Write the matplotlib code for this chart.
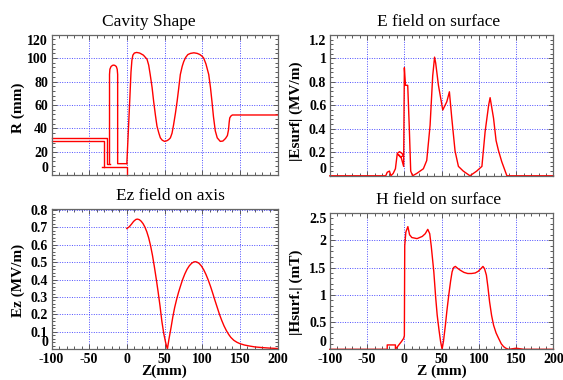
import matplotlib
matplotlib.use("Agg")
import matplotlib.pyplot as plt
from matplotlib.ticker import AutoMinorLocator

plt.rcParams['font.family'] = ['Liberation Serif', 'DejaVu Serif']
plt.rcParams['axes.unicode_minus'] = False

# ---- cavity shape (z in mm, R in mm) ----
coupler_outer_z = [-100, -27, -27, -23]
coupler_outer_r = [32, 32, 10, 10]
coupler_inner_z = [-100, -30, -30]
coupler_inner_r = [29, 29, 7.5]
pipe_z = [-33, 0, 0]
pipe_r = [7.5, 7.5, 0]
post_z = [-23, -23, -22.5, -21, -19, -17.5, -16, -14, -12.8, -12.2, -12.2, 0]
post_r = [10, 86, 90.5, 92.8, 93.8, 94, 93.8, 92.8, 90.5, 86, 10, 10]
cell_z = [0, 2, 4, 5.5, 6.7, 8, 10, 13, 17, 22, 26.8, 29, 31, 33.5, 35.6, 38, 40,
          42.5, 44.5, 47, 50, 53, 55.5, 57.8, 60, 62, 64.5, 66.7, 69, 71, 73.5, 75.5,
          78, 81, 84.5, 89, 93.4, 97, 100, 102, 105, 108.7, 111, 113, 115, 117.4, 120,
          124, 127.5, 131, 133.5, 135, 135.8, 136.6, 138, 140, 200]
cell_r = [10, 38, 66, 88, 98, 102.5, 104.3, 104.8, 104.3, 102.5, 99, 94, 86, 75, 63, 51, 42,
          36, 32, 30, 29, 29.5, 30.5, 32, 36, 43, 53, 63, 75, 86, 93, 97,
          100.5, 103, 104, 104.5, 104, 103, 101.5, 100, 95, 86, 75, 63, 50, 38, 32,
          29, 29.3, 31.5, 34, 39, 45, 49, 50.5, 51.5, 51.5]

# ---- surface E field (MV/m) ----
es_z = [-100, -25, -23, -20, -18, -15, -12, -9.5, -6.5, -3, -1.5, -5, -8, -4, -1, 0,
        1.5, 4.5, 6.5, 8.5, 11, 16.6, 25.5, 30, 34.5, 38, 40.5, 42, 45.7, 51.5, 56.9,
        60.4, 63.6, 68, 72.5, 79, 88, 97, 104, 108.3, 113, 115, 119.6, 123, 126,
        130.6, 137.5, 200]
es_v = [0, 0, 0.03, 0.04, 0, 0.02, 0.06, 0.19, 0.205, 0.19, 0.17, 0.16, 0.18, 0.15, 0.08, 0.92,
        0.77, 0.77, 0.43, 0.04, 0, 0.02, 0.06, 0.13, 0.43, 0.85, 1.01, 0.96, 0.77, 0.56, 0.63,
        0.715, 0.49, 0.21, 0.08, 0.04, 0, 0.04, 0.08, 0.375, 0.6, 0.665, 0.49, 0.3, 0.22,
        0.12, 0, 0]

# ---- Ez on axis (MV/m) ----
ez_z = [0, 3, 6, 9, 12, 14, 16.5, 19, 21.5, 24, 26.5, 29, 31.5, 34, 36.5, 39, 41.5,
        44, 46.5, 49, 51.5, 53.8, 56, 58.7, 61, 63.5, 66, 68.5, 71, 74, 77, 80, 83, 86,
        89, 91, 93, 96, 99, 102, 105, 108, 111, 114, 117, 120, 123, 126, 129, 132, 135,
        138, 142, 146, 150, 156, 163, 170, 180, 190, 200]
ez_v = [0.694, 0.703, 0.718, 0.735, 0.746, 0.748, 0.745, 0.736, 0.722, 0.702, 0.675, 0.64,
        0.595, 0.54, 0.475, 0.405, 0.33, 0.25, 0.16, 0.09, 0.038, 0.0, 0.06, 0.125,
        0.185, 0.24, 0.285, 0.325, 0.36, 0.4, 0.433, 0.46, 0.48, 0.494,
        0.502, 0.503, 0.501, 0.493, 0.478, 0.457, 0.43, 0.398, 0.362, 0.322, 0.28, 0.24,
        0.2, 0.165, 0.134, 0.108, 0.086, 0.068, 0.051, 0.04, 0.032, 0.024, 0.018, 0.013,
        0.009, 0.006, 0.004]

# ---- surface H field (mT) ----
hs_z = [-100, -23, -23, -12, -12, -8, -4, -1, 0, 0.5, 2, 4.7, 7, 10, 17, 24, 28, 31.4,
        34, 36, 39.5, 42, 44, 46.5, 48.5, 50.6, 52.5, 55, 57, 59.5, 62, 64, 66, 68.4,
        71, 75, 80, 85, 90, 95, 99, 102, 105.4, 107.5, 110, 112, 114.3, 117, 119.7,
        123, 126.4, 130, 133, 136, 139.7, 145, 150, 155, 160, 200]
hs_v = [0, 0, 0.08, 0.08, 0, 0.07, 0.14, 0.2, 0.25, 1.9, 2.15, 2.25, 2.1, 2.05, 2.03, 2.07,
        2.12, 2.2, 2.12, 1.9, 1.42, 0.95, 0.63, 0.35, 0.15, 0, 0.15, 0.44, 0.7, 0.99, 1.25,
        1.42, 1.5, 1.52, 1.49, 1.45, 1.41, 1.39, 1.39, 1.4, 1.43, 1.47, 1.52, 1.48, 1.36,
        1.15, 0.87, 0.62, 0.44, 0.3, 0.2, 0.1, 0.05, 0.02, 0, 0.01, 0.02, 0.01, 0, 0]

x_ticks = [-100, -50, 0, 50, 100, 150, 200]
r_ticks = [0, 20, 40, 60, 80, 100, 120]
es_ticks = [0, 0.2, 0.4, 0.6, 0.8, 1.0, 1.2]
es_labels = ['0', '0.2', '0.4', '0.6', '0.8', '1', '1.2']
ez_ticks = [0, 0.1, 0.2, 0.3, 0.4, 0.5, 0.6, 0.7, 0.8]
ez_labels = ['0', '0.1', '0.2', '0.3', '0.4', '0.5', '0.6', '0.7', '0.8']
hs_ticks = [0, 0.5, 1.0, 1.5, 2.0, 2.5]
hs_labels = ['0', '0.5', '1', '1.5', '2', '2.5']

fig = plt.figure(figsize=(5.63, 3.80), dpi=100)
ax_tl = fig.add_axes([0.0915, 0.5384, 0.4014, 0.3705])
ax_tr = fig.add_axes([0.5858, 0.5374, 0.3973, 0.371])
ax_bl = fig.add_axes([0.0915, 0.0811, 0.4014, 0.3684])
ax_br = fig.add_axes([0.5858, 0.0808, 0.3973, 0.3587])

red = dict(color='red', lw=1.0, clip_on=False)
for zz, rr in [(coupler_outer_z, coupler_outer_r), (coupler_inner_z, coupler_inner_r),
               (pipe_z, pipe_r), (post_z, post_r), (cell_z, cell_r)]:
    ax_tl.plot(zz, rr, **red)
ax_tr.plot(es_z, es_v, **red)
ax_bl.plot(ez_z, ez_v, **red)
ax_br.plot(hs_z, hs_v, **red)


def style(ax, yticks, ylabels, ylim, title, tx, ylabel, ly, xlabel=None, top_center=False):
    ax.set_xlim(-100, 200)
    ax.set_ylim(*ylim)
    ax.set_xticks(x_ticks)
    ax.set_yticks(yticks, ylabels)
    ax.xaxis.set_minor_locator(AutoMinorLocator(5))
    ax.yaxis.set_minor_locator(AutoMinorLocator(5))
    ax.grid(True, which='major', color=(0.3, 0.3, 1.0), ls=(0, (1, 1.5)), lw=0.7)
    ax.set_axisbelow(True)
    for s in ax.spines.values():
        s.set_color('0.4')
        s.set_linewidth(0.9)
    ax.tick_params(which='both', direction='in', top=True, right=True, color='0.35',
                   labelsize=10, width=0.7)
    ax.tick_params(which='major', length=3.5, pad=2.5)
    ax.tick_params(which='minor', length=2)
    for lab in ax.get_xticklabels() + ax.get_yticklabels():
        lab.set_fontweight('bold')
    yt = ax.yaxis.get_major_ticks()
    yt[0].label1.set_verticalalignment('bottom')
    if not top_center:
        yt[-1].label1.set_verticalalignment('top')
    if xlabel is None:
        ax.tick_params(axis='x', labelbottom=False)
    else:
        ax.set_xlabel(xlabel, fontsize=11, fontweight='bold')
        ax.xaxis.set_label_coords(0.5, -0.112)
        ax.xaxis.label.set_verticalalignment('top')
    ax.set_ylabel(ylabel, fontsize=11, fontweight='bold')
    ax.yaxis.set_label_coords(-0.118, ly)
    ax.annotate(title, xy=(tx, 1.0), xycoords='axes fraction', xytext=(0, 13),
                textcoords='offset pixels', ha='center', va='center', fontsize=12.5)


style(ax_tl, r_ticks, [str(v) for v in r_ticks], (0, 120), 'Cavity Shape', 0.431,
      'R (mm)', 0.479)
style(ax_tr, es_ticks, es_labels, (0, 1.2), 'E field on surface', 0.488,
      '|Esurf| (MV/m)', 0.455)
style(ax_bl, ez_ticks, ez_labels, (0, 0.805), 'Ez field on axis', 0.528,
      'Ez (MV/m)', 0.494, xlabel='Z(mm)', top_center=True)
style(ax_br, hs_ticks, hs_labels, (0, 2.5), 'H field on surface', 0.485,
      '|Hsurf.| (mT)', 0.42, xlabel='Z (mm)')

fig.savefig('out.png', dpi=100)
